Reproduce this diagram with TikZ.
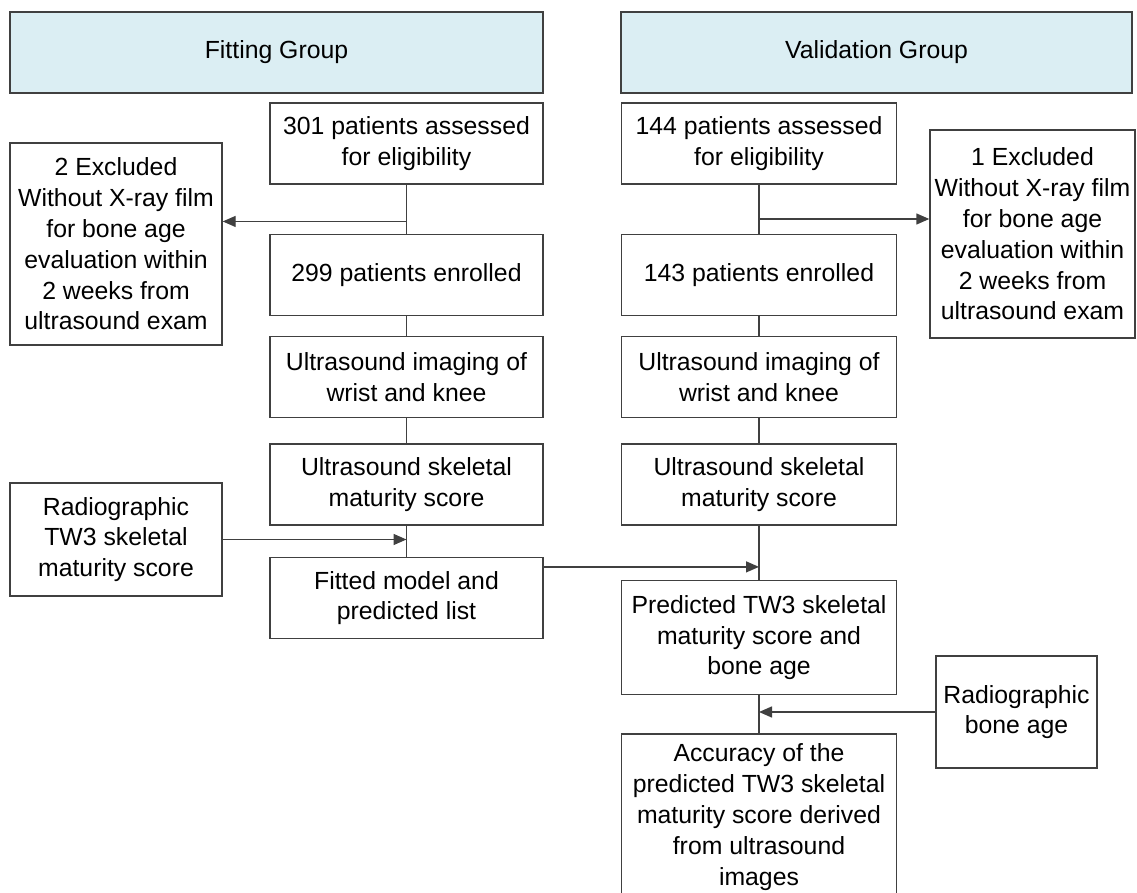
\documentclass[tikz,border=0pt]{standalone}
\usepackage{fontspec}
\setmainfont{Liberation Sans}
\usepackage{tikz}
\usetikzlibrary{positioning, calc, arrows.meta}
\definecolor{ink}{RGB}{64,64,64}
\definecolor{headfill}{RGB}{219,238,243}
\tikzset{
  head/.style={draw=ink,fill=headfill,line width=0.7pt,inner sep=0pt,
    minimum height=40.5pt,font=\fontsize{12.4}{15.4}\selectfont},
  stage/.style={draw=ink,fill=white,line width=0.7pt,inner sep=0pt,
    minimum height=40.5pt,align=center,font=\fontsize{12.4}{15.4}\selectfont},
  side/.style={draw=ink,fill=white,line width=0.7pt,inner sep=0pt,
    align=center,font=\fontsize{12.4}{15.4}\selectfont},
  link/.style={draw=ink,line width=0.7pt},
  flow/.style={-{Triangle[length=6.5pt,width=5.5pt]},draw=ink,line width=0.7pt},
}
\begin{document}
\begin{tikzpicture}[x=0.5pt,y=-0.5pt]
  \useasboundingbox (0,0) rectangle (1137,893);
  % group headers
  \node[head,minimum width=266.5pt] (fithead) at (276.5,52.5) {Fitting Group};
  \node[head,minimum width=255.5pt] (valhead) at (876.5,52.5) {Validation Group};
  % fitting group
  \node[stage,minimum width=136.5pt] (fitall) at (406.5,143.5)
    {301 patients assessed\\for eligibility};
  \node[stage,minimum width=136.5pt,below=24.5pt of fitall] (fitin)
    {299 patients enrolled};
  \node[stage,minimum width=136.5pt,below=10pt of fitin] (fitimg)
    {Ultrasound imaging of\\wrist and knee};
  \node[stage,minimum width=136.5pt,below=12.5pt of fitimg] (fitscore)
    {Ultrasound skeletal\\maturity score};
  \node[stage,minimum width=136.5pt,below=15.5pt of fitscore] (model)
    {Fitted model and\\predicted list};
  \node[side,minimum width=106pt,minimum height=101pt] (fitout) at (116,244)
    {2 Excluded\\Without X-ray film\\for bone age\\evaluation within\\2 weeks from\\ultrasound exam};
  \node[side,minimum width=106pt,minimum height=56.5pt] (tw3) at (116,539.5)
    {Radiographic\\TW3 skeletal\\maturity score};
  % validation group
  \node[stage,minimum width=137.5pt] (valall) at (759,143.5)
    {144 patients assessed\\for eligibility};
  \node[stage,minimum width=137.5pt,below=24.5pt of valall] (valin)
    {143 patients enrolled};
  \node[stage,minimum width=137.5pt,below=10pt of valin] (valimg)
    {Ultrasound imaging of\\wrist and knee};
  \node[stage,minimum width=137.5pt,below=12.5pt of valimg] (valscore)
    {Ultrasound skeletal\\maturity score};
  \node[stage,minimum width=137.5pt,minimum height=57pt,below=27pt of valscore] (pred)
    {Predicted TW3 skeletal\\maturity score and\\bone age};
  \node[stage,minimum width=137.5pt,minimum height=83pt,below=19pt of pred] (acc)
    {Accuracy of the\\predicted TW3 skeletal\\maturity score derived\\from ultrasound\\images};
  \node[side,minimum width=102.5pt,minimum height=104pt] (valout) at (1032.5,234)
    {1 Excluded\\Without X-ray film\\for bone age\\evaluation within\\2 weeks from\\ultrasound exam};
  \node[side,minimum width=80.5pt,minimum height=56pt] (boneage) at (1016.5,712)
    {Radiographic\\bone age};
  % trunks
  \draw[link] (fitall) -- (fitin) (fitin) -- (fitimg) (fitimg) -- (fitscore)
    (fitscore) -- (model);
  \draw[link] (valall) -- (valin) (valin) -- (valimg) (valimg) -- (valscore)
    (valscore) -- (pred) (pred) -- (acc);
  % side arrows
  \coordinate (fitsplit) at ($(fitall.south)!0.75!(fitin.north)$);
  \coordinate (valsplit) at ($(valall.south)!0.7!(valin.north)$);
  \coordinate (valmerge) at ([yshift=-5pt]model.north -| valscore.south);
  \draw[flow] (fitsplit) -- (fitsplit -| fitout.east);
  \draw[flow] (valsplit) -- (valsplit -| valout.west);
  \draw[flow] (tw3.east) -- (tw3.east -| fitscore.south);
  \draw[flow] (valmerge -| model.east) -- (valmerge);
  \draw[flow] (boneage.west) -- (boneage.west -| pred.south);
\end{tikzpicture}
\end{document}
